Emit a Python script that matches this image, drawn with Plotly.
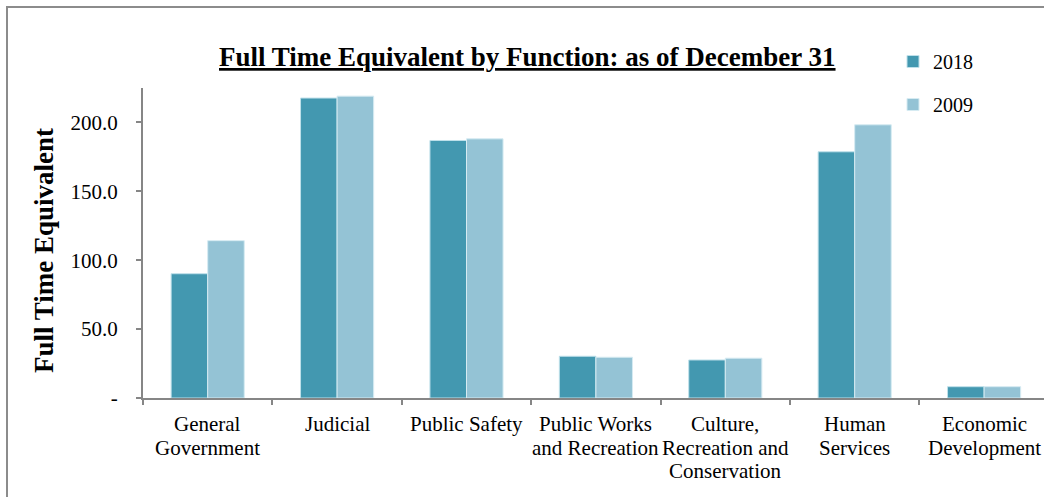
import plotly.graph_objects as go

categories = ["General<br>Government", "Judicial", "Public Safety",
              "Public Works<br>and Recreation", "Culture,<br>Recreation and<br>Conservation",
              "Human<br>Services", "Economic<br>Development"]
fte_2018 = [90.2, 217.7, 186.9, 30.3, 27.6, 178.7, 8.2]
fte_2009 = [114.2, 219.1, 188.1, 29.6, 28.9, 198.3, 8.2]
ytick_vals = [0, 50, 100, 150, 200]
ytick_text = ["-", "50.0", "100.0", "150.0", "200.0"]

FONT = "Liberation Serif"
c2018 = "#4398B0"
c2009 = "#94C3D5"

fig = go.Figure()
fig.add_trace(go.Bar(x=categories, y=fte_2018, name="2018", legendgroup="a",
                     marker=dict(color=c2018, line=dict(color="#bfe0ea", width=1))))
fig.add_trace(go.Bar(x=categories, y=fte_2009, name="2009", legendgroup="b",
                     marker=dict(color=c2009, line=dict(color="#d6ebf2", width=1))))

W, H = 1044, 497
L, R, T, B = 143, 0, 88, 99
pw = W - L - R
ph = H - T - B
catw = 129.4

def px(x):
    return (x - L) / pw

def py(y):
    return (H - B - y) / ph

# category labels, drawn line by line to get the tight line spacing of the original
label_annotations = []
for cat in categories:
    for i, line in enumerate(cat.split("<br>")):
        label_annotations.append(dict(
            text=line, xref="x", yref="paper", x=cat, y=0, showarrow=False,
            xanchor="center", yanchor="middle", yshift=-(26 + i * 23.5),
            font=dict(family=FONT, size=21, color="black")))

fig.update_layout(
    width=W, height=H,
    margin=dict(l=L, r=R, t=T, b=B, pad=0, autoexpand=False),
    paper_bgcolor="white", plot_bgcolor="white",
    font=dict(family=FONT, size=21, color="black"),
    barmode="group", bargap=0.435, bargroupgap=0,
    showlegend=True,
    legend=dict(x=px(893), y=py(42), xanchor="left", yanchor="top",
                font=dict(family=FONT, size=20), tracegroupgap=14,
                itemwidth=30, bgcolor="rgba(0,0,0,0)"),
    xaxis=dict(range=[-0.5, -0.5 + pw / catw], showline=True, linecolor="#868686",
               linewidth=2, ticks="outside", tickson="boundaries", ticklen=5,
               tickcolor="#868686", tickwidth=2, showgrid=False, tickangle=0,
               automargin=False, showticklabels=False),
    yaxis=dict(range=[0, 225], showline=True, linecolor="#868686", linewidth=2,
               ticks="outside", ticklen=5, tickcolor="#868686", tickwidth=2,
               tickvals=ytick_vals, ticktext=ytick_text, showgrid=False, zeroline=False,
               automargin=False,
               tickfont=dict(family=FONT, size=21), ticklabelstandoff=14),
    annotations=[
        dict(text="<b>Full Time Equivalent by Function: as of December 31</b>",
             xref="paper", yref="paper", x=px(527), y=py(57), showarrow=False,
             xanchor="center", yanchor="middle",
             font=dict(family=FONT, size=27, color="black", lineposition="under")),
        dict(text="<b>Full Time Equivalent</b>", textangle=-90,
             xref="paper", yref="paper", x=px(44), y=py(251), showarrow=False,
             xanchor="center", yanchor="middle",
             font=dict(family=FONT, size=27, color="black")),
    ] + label_annotations,
    shapes=[
        dict(type="rect", xref="paper", yref="paper", x0=px(7), x1=px(1100),
             y0=py(600), y1=py(7), line=dict(color="#8c8c8c", width=2),
             fillcolor="rgba(0,0,0,0)", layer="below"),
    ],
)

fig.write_html("out.html", config={"displayModeBar": False},
               post_script="document.body.style.margin='0';document.body.style.overflow='hidden';")
